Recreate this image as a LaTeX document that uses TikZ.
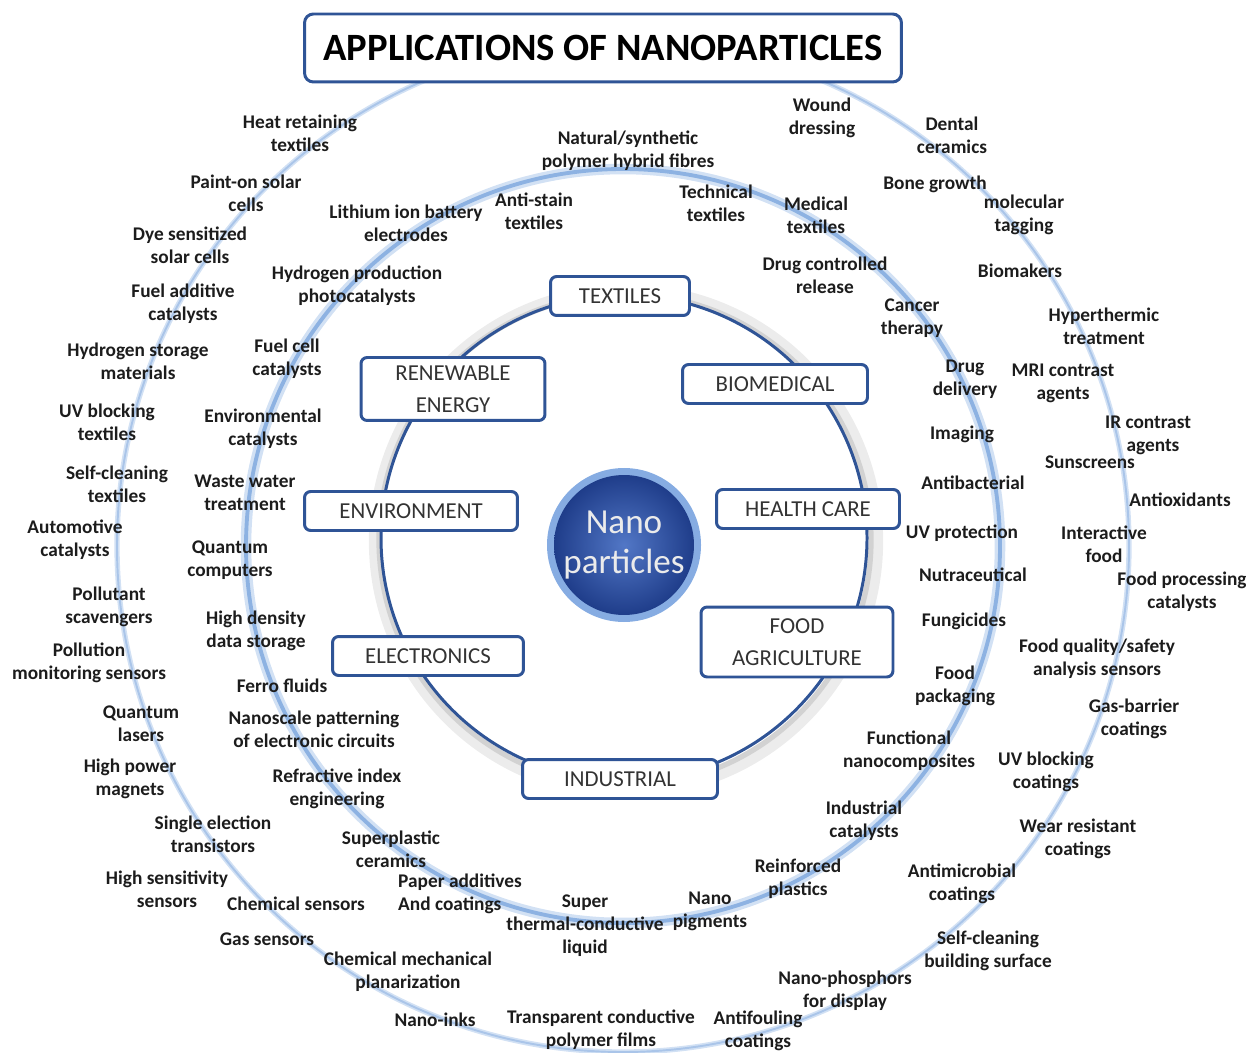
\documentclass[tikz,border=0pt]{standalone}
\usepackage{fontspec}
\setmainfont{Carlito}
\usepackage{tikz}

\definecolor{FrameBlue}{HTML}{2F5496}
\definecolor{RingBlue}{HTML}{8DB2E2}
\definecolor{RingPale}{HTML}{D2E1F4}
\definecolor{CoreDark}{HTML}{1F3D8A}
\definecolor{CoreLight}{HTML}{5277C6}
\definecolor{CoreGlow}{HTML}{86ACE2}
\definecolor{InkText}{HTML}{1C1C1C}

\tikzset{
  AppStyle/.style={align=center, text=InkText, inner sep=0pt,
    font=\bfseries\fontsize{11}{13}\selectfont},
  FieldStyle/.style={draw=FrameBlue, line width=1.7pt, rounded corners=3.5pt,
    fill=white, align=center, text=black!80, inner sep=0pt,
    minimum height=0.78cm, font=\fontsize{13}{18}\selectfont},
  TitleStyle/.style={draw=FrameBlue, line width=1.7pt, rounded corners=5pt,
    fill=white, minimum width=11.94cm, minimum height=1.36cm,
    font=\bfseries\fontsize{22}{26}\selectfont},
  CoreStyle/.style={circle, minimum size=2.8cm, inner sep=0pt,
    inner color=CoreLight, outer color=CoreDark, align=center,
    text=white!92!black, font=\fontsize{20}{23}\selectfont}
}

\begin{document}
\begin{tikzpicture}[x=0.02cm, y=-0.02cm]
        \useasboundingbox (0,0) rectangle (1246,1053);
        \coordinate (c) at (623,546);
        \coordinate (hub) at (624,538);
        % rings
        \draw[RingPale, line width=3pt] (c) circle[radius=506];
        \draw[RingBlue!75, line width=1.1pt] (c) circle[radius=506];
        \draw[RingPale, line width=6pt] (c) circle[radius=377];
        \draw[RingBlue, line width=2.2pt] (c) circle[radius=377];
        \draw[gray!15, line width=7pt] (hub) ++(2,3) circle[radius=251];
        \draw[gray!35, line width=3pt] (hub) ++(1,2) circle[radius=246];
        \draw[FrameBlue, line width=1.7pt] (hub) circle[radius=243];
        \node[TitleStyle] (title) at (603,48) {APPLICATIONS OF NANOPARTICLES};
        \fill[CoreGlow] (624,545) circle[radius=77];
        \node[CoreStyle] (core) at (624,545) {Nano\\particles};
        \node[FieldStyle, minimum width=2.78cm] (textiles) at (620,296) {TEXTILES};
        \node[FieldStyle, minimum width=3.68cm, minimum height=1.26cm] (energy) at (453,389) {RENEWABLE\\ENERGY};
        \node[FieldStyle, minimum width=3.7cm] (biomed) at (775,384) {BIOMEDICAL};
        \node[FieldStyle, minimum width=4.26cm] (environ) at (411,511) {ENVIRONMENT};
        \node[FieldStyle, minimum width=3.66cm] (health) at (808,509) {HEALTH CARE};
        \node[FieldStyle, minimum width=3.82cm] (electro) at (428,656) {ELECTRONICS};
        \node[FieldStyle, minimum width=3.84cm, minimum height=1.4cm] (food) at (797,642) {FOOD\\AGRICULTURE};
        \node[FieldStyle, minimum width=3.9cm] (industry) at (620,779) {INDUSTRIAL};
        % outer ring labels
        \node[AppStyle] (heat) at (300,133) {Heat retaining\\textiles};
        \node[AppStyle] (paint) at (246,193) {Paint-on solar\\cells};
        \node[AppStyle] (dye) at (190,245) {Dye sensitized\\solar cells};
        \node[AppStyle] (fueladd) at (183,304) {Fuel additive\\catalysts};
        \node[AppStyle] (h2store) at (138,361) {Hydrogen storage\\materials};
        \node[AppStyle] (uvtex) at (107,422) {UV blocking\\textiles};
        \node[AppStyle] (selftex) at (117,484) {Self-cleaning\\textiles};
        \node[AppStyle] (auto) at (75,540) {Automotive\\catalysts};
        \node[AppStyle] (pollut) at (109,607) {Pollutant\\scavengers};
        \node[AppStyle] (pollmon) at (89,663) {Pollution\\monitoring sensors};
        \node[AppStyle] (qlaser) at (141,724) {Quantum\\lasers};
        \node[AppStyle] (magnet) at (130,779) {High power\\magnets};
        \node[AppStyle] (set) at (213,834) {Single election\\transistors};
        \node[AppStyle] (hisens) at (167,889) {High sensitivity\\sensors};
        \node[AppStyle] (gas) at (267,939) {Gas sensors};
        \node[AppStyle] (cmp) at (408,972) {Chemical mechanical\\planarization};
        \node[AppStyle] (inks) at (435,1020) {Nano-inks};
        \node[AppStyle] (tcpf) at (601,1030) {Transparent conductive\\polymer films};
        \node[AppStyle] (antifoul) at (758,1031) {Antifouling\\coatings};
        \node[AppStyle] (phosphor) at (845,991) {Nano-phosphors\\for display};
        \node[AppStyle] (selfbuild) at (988,951) {Self-cleaning\\building surface};
        \node[AppStyle] (antimic) at (962,884) {Antimicrobial\\coatings};
        \node[AppStyle] (wear) at (1078,839) {Wear resistant\\coatings};
        \node[AppStyle] (uvcoat) at (1046,772) {UV blocking\\coatings};
        \node[AppStyle] (gasbar) at (1134,719) {Gas-barrier\\coatings};
        \node[AppStyle] (foodqual) at (1097,659) {Food quality/safety\\analysis sensors};
        \node[AppStyle] (foodproc) at (1182,592) {Food processing\\catalysts};
        \node[AppStyle] (interfood) at (1104,544) {Interactive\\food};
        \node[AppStyle] (antiox) at (1180,500) {Antioxidants};
        \node[AppStyle] (sunscr) at (1090,462) {Sunscreens};
        \node[AppStyle] (ircon) at (1148,435) {IR contrast\\\hspace*{0.2cm}agents};
        \node[AppStyle] (mricon) at (1063,383) {MRI contrast\\agents};
        \node[AppStyle] (hyper) at (1104,326) {Hyperthermic\\treatment};
        \node[AppStyle] (biomak) at (1020,271) {Biomakers};
        \node[AppStyle] (moltag) at (1024,215) {molecular\\tagging};
        \node[AppStyle] (bone) at (935,184) {Bone growth};
        \node[AppStyle] (dental) at (952,135) {Dental\\ceramics};
        \node[AppStyle] (wound) at (822,118) {Wound\\dressing};
        % middle ring labels
        \node[AppStyle] (natural) at (628,151) {Natural/synthetic\\polymer hybrid fibres};
        \node[AppStyle] (antistain) at (534,211) {Anti-stain\\textiles};
        \node[AppStyle] (technical) at (716,203) {Technical\\textiles};
        \node[AppStyle] (lithium) at (406,223) {Lithium ion battery\\electrodes};
        \node[AppStyle] (medical) at (816,215) {Medical\\textiles};
        \node[AppStyle] (drugrel) at (825,275) {Drug controlled\\release};
        \node[AppStyle] (h2prod) at (357,286) {Hydrogen production\\photocatalysts};
        \node[AppStyle] (cancer) at (912,318) {Cancer\\therapy};
        \node[AppStyle] (fuelcell) at (287,359) {Fuel cell\\catalysts};
        \node[AppStyle] (drugdel) at (965,379) {Drug\\delivery};
        \node[AppStyle] (envcat) at (263,429) {Environmental\\catalysts};
        \node[AppStyle] (imaging) at (962,434) {Imaging};
        \node[AppStyle] (waste) at (245,493) {Waste water\\treatment};
        \node[AppStyle] (antibac) at (973,483) {Antibacterial};
        \node[AppStyle] (uvprot) at (962,533) {UV protection};
        \node[AppStyle] (qcomp) at (230,560) {Quantum\\computers};
        \node[AppStyle] (nutra) at (973,575) {Nutraceutical};
        \node[AppStyle] (hidens) at (256,631) {High density\\data storage};
        \node[AppStyle] (fungi) at (964,621) {Fungicides};
        \node[AppStyle] (foodpack) at (955,686) {Food\\packaging};
        \node[AppStyle] (ferro) at (282,686) {Ferro fluids};
        \node[AppStyle] (nanopat) at (314,729) {Nanoscale patterning\\of electronic circuits};
        \node[AppStyle] (funcnano) at (909,751) {Functional\\nanocomposites};
        \node[AppStyle] (refract) at (337,789) {Refractive index\\engineering};
        \node[AppStyle] (indcat) at (864,821) {Industrial\\catalysts};
        \node[AppStyle] (superpl) at (391,849) {Superplastic\\ceramics};
        \node[AppStyle] (reinf) at (798,879) {Reinforced\\plastics};
        \node[AppStyle, align=left] (paper) at (460,894) {Paper additives\\And coatings};
        \node[AppStyle] (supertherm) at (585,926) {Super\\thermal-conductive\\liquid};
        \node[AppStyle] (pigments) at (710,911) {Nano\\pigments};
        \node[AppStyle] (chemsens) at (296,904) {Chemical sensors};
    \end{tikzpicture}
\end{document}
